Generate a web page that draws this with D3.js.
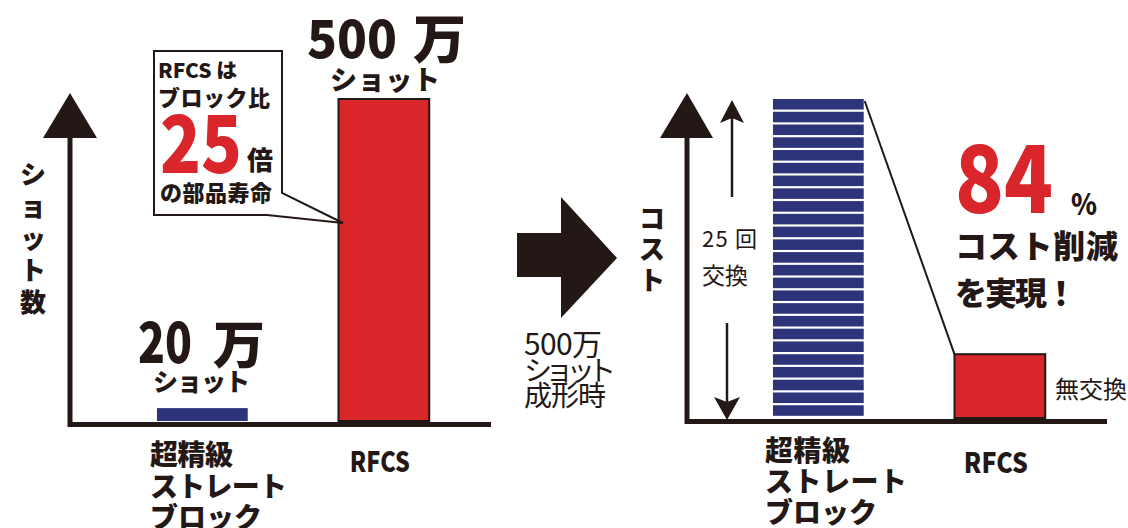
<!DOCTYPE html>
<html><head><meta charset="utf-8">
<script src="https://cdn.jsdelivr.net/npm/d3@7"></script>
<style>
html,body{margin:0;padding:0;background:#fff;}
svg{display:block;}
text{font-family:"Noto Sans CJK JP","Noto Sans",sans-serif;fill:#231815;}
</style></head>
<body>
<svg id="chart" width="1128" height="528"></svg>
<script>
// ---------- data ----------
const categories = ["超精級ストレートブロック", "RFCS"];
const categoryLines = [["超精級", "ストレート", "ブロック"], ["RFCS"]];
const shots = [20, 500];               // 万ショット
const shotLabels = ["20", "500"];
const replacements = 25;               // block exchanged 25 times
const costPerBlock = 1;                // cost units per block
const rfcsCost = 5;                    // RFCS cost units (no exchange)
const yLabelLeft = "ショット数";
const yLabelRight = "コスト";

const DARK = "#231815", RED = "#d8262b", NAVY = "#2e3479";
const svg = d3.select("#chart");

// ---------- left chart ----------
const xL = d3.scaleBand().domain(categories).range([111.6, 474.6]).paddingInner(0.5).paddingOuter(0.25);
const yL = d3.scaleLinear().domain([0, 500]).range([421, 99]);
const L = svg.append("g");
L.selectAll("rect.bar").data(categories).join("rect")
  .attr("x", d => xL(d)).attr("width", xL.bandwidth())
  .attr("y", (d, i) => yL(shots[i])).attr("height", (d, i) => yL(0) - yL(shots[i]))
  .attr("fill", (d, i) => i === 0 ? NAVY : RED)
  .attr("stroke", (d, i) => i === 0 ? "none" : DARK).attr("stroke-width", 2);
// axes
L.append("line").attr("x1", 70).attr("x2", 70).attr("y1", 134).attr("y2", 427).attr("stroke", DARK).attr("stroke-width", 5);
L.append("line").attr("x1", 68).attr("x2", 491).attr("y1", 424.5).attr("y2", 424.5).attr("stroke", DARK).attr("stroke-width", 5);
L.append("path").attr("d", "M70,93 L97,138 L43,138 Z").attr("fill", DARK);
// y label
L.selectAll("text.yl").data(Array.from(yLabelLeft)).join("text")
  .attr("x", 33).attr("y", (d, i) => 172 + i * 32).attr("text-anchor", "middle")
  .attr("dominant-baseline", "central").attr("font-size", 26).attr("font-weight", 900).text(d => d);
// x labels
L.append("g").selectAll("text").data(categoryLines[0]).join("text")
  .attr("x", 150).attr("y", (d, i) => 465 + i * 31.5).attr("font-size", 28).attr("font-weight", 900)
  .attr("textLength", (d, i) => [83, 137, 112][i]).text(d => d);
L.append("text").attr("x", xL(categories[1]) + xL.bandwidth() / 2 - 4).attr("y", 472).attr("text-anchor", "middle")
  .attr("font-size", 28).attr("font-weight", 900).attr("textLength", 60).attr("lengthAdjust", "spacingAndGlyphs").text(categoryLines[1][0]);
// value labels
L.append("text").attr("x", 307).attr("y", 58).attr("font-size", 52).attr("font-weight", 900)
  .attr("textLength", 90).attr("lengthAdjust", "spacingAndGlyphs").text(shotLabels[1]);
L.append("text").attr("x", 413).attr("y", 59).attr("font-size", 53).attr("font-weight", 900).text("万");
L.append("text").attr("x", 330).attr("y", 90).attr("font-size", 27).attr("font-weight", 900).attr("textLength", 110).text("ショット");
L.append("text").attr("x", 138).attr("y", 363).attr("font-size", 56).attr("font-weight", 900)
  .attr("textLength", 54).attr("lengthAdjust", "spacingAndGlyphs").text(shotLabels[0]);
L.append("text").attr("x", 213).attr("y", 364).attr("font-size", 52).attr("font-weight", 900).text("万");
L.append("text").attr("x", 153).attr("y", 391).attr("font-size", 25).attr("font-weight", 900).attr("textLength", 97).text("ショット");
// callout
L.append("path").attr("d", "M154,51 L282,51 L282,193 L343,223 L267,215 L154,215 Z")
  .attr("fill", "#fff").attr("stroke", DARK).attr("stroke-width", 2).attr("stroke-linejoin", "miter");
L.append("text").attr("x", 158).attr("y", 78).attr("font-size", 20).attr("font-weight", 900)
  .attr("textLength", 79).attr("lengthAdjust", "spacingAndGlyphs").text("RFCS は");
L.append("text").attr("x", 158).attr("y", 106).attr("font-size", 22).attr("font-weight", 900).attr("textLength", 112).text("ブロック比");
L.append("text").attr("x", 160).attr("y", 173).attr("font-size", 80).attr("font-weight", 900).style("fill", RED)
  .attr("textLength", 82).attr("lengthAdjust", "spacingAndGlyphs").text("25");
L.append("text").attr("x", 247).attr("y", 170).attr("font-size", 26).attr("font-weight", 900).text("倍");
L.append("text").attr("x", 160).attr("y", 201).attr("font-size", 22).attr("font-weight", 900).attr("textLength", 112).text("の部品寿命");

// ---------- middle arrow ----------
svg.append("path").attr("d", "M517,233 L561,233 L561,197 L617,258 L561,318 L561,277 L517,277 Z").attr("fill", DARK);
const mid = ["500万", "ショット", "成形時"];
svg.append("g").selectAll("text").data(mid).join("text")
  .attr("x", 524).attr("y", (d, i) => [355, 381, 406][i]).attr("font-size", (d, i) => i === 0 ? 30 : 28)
  .attr("font-weight", 400).attr("textLength", (d, i) => [78, 92, 82][i]).text(d => d);

// ---------- right chart ----------
const xR = d3.scaleBand().domain(categories).range([727.6, 1090.6]).paddingInner(0.5).paddingOuter(0.25);
const yR = d3.scaleLinear().domain([0, replacements * costPerBlock]).range([418, 99]);
const R = svg.append("g");
const segs = d3.range(replacements);
R.selectAll("rect.seg").data(segs).join("rect")
  .attr("x", xR(categories[0])).attr("width", xR.bandwidth())
  .attr("y", i => yR((i + 1) * costPerBlock))
  .attr("height", i => yR(i * costPerBlock) - yR((i + 1) * costPerBlock) - 2.2)
  .attr("fill", NAVY);
R.append("rect").attr("x", xR(categories[1])).attr("width", xR.bandwidth())
  .attr("y", yR(rfcsCost)).attr("height", yR(0) - yR(rfcsCost))
  .attr("fill", RED).attr("stroke", DARK).attr("stroke-width", 2);
// connector
R.append("line").attr("x1", xR(categories[0]) + xR.bandwidth() + 1).attr("y1", yR(replacements) + 2)
  .attr("x2", xR(categories[1])).attr("y2", yR(rfcsCost)).attr("stroke", DARK).attr("stroke-width", 2);
// axes
R.append("line").attr("x1", 687).attr("x2", 687).attr("y1", 134).attr("y2", 424).attr("stroke", DARK).attr("stroke-width", 5);
R.append("line").attr("x1", 685).attr("x2", 1107).attr("y1", 421.5).attr("y2", 421.5).attr("stroke", DARK).attr("stroke-width", 5);
R.append("path").attr("d", "M687,93 L713,138 L660,138 Z").attr("fill", DARK);
// double arrow
R.append("line").attr("x1", 732).attr("x2", 732).attr("y1", 197).attr("y2", 118).attr("stroke", DARK).attr("stroke-width", 2.5);
R.append("path").attr("d", "M732,100 L744,123 L732,118 L720,123 Z").attr("fill", DARK);
R.append("line").attr("x1", 727).attr("x2", 727).attr("y1", 323).attr("y2", 402).attr("stroke", DARK).attr("stroke-width", 2.5);
R.append("path").attr("d", "M727,420 L740,397 L727,402 L714,397 Z").attr("fill", DARK);
R.append("text").attr("x", 702).attr("y", 247).attr("font-size", 22).attr("font-weight", 400).attr("textLength", 55).text(replacements + " 回");
R.append("text").attr("x", 702).attr("y", 284).attr("font-size", 23).attr("font-weight", 400).text("交換");
// y label
R.selectAll("text.yl").data(Array.from(yLabelRight)).join("text")
  .attr("x", 652).attr("y", (d, i) => 216 + i * 31).attr("text-anchor", "middle")
  .attr("dominant-baseline", "central").attr("font-size", 26).attr("font-weight", 900).text(d => d);
// x labels
R.append("g").selectAll("text").data(categoryLines[0]).join("text")
  .attr("x", 765).attr("y", (d, i) => 461 + i * 31).attr("font-size", 28).attr("font-weight", 900)
  .attr("textLength", (d, i) => [85, 142, 112][i]).text(d => d);
R.append("text").attr("x", xR(categories[1]) + xR.bandwidth() / 2 - 4).attr("y", 473).attr("text-anchor", "middle")
  .attr("font-size", 28).attr("font-weight", 900).attr("textLength", 64).attr("lengthAdjust", "spacingAndGlyphs").text(categoryLines[1][0]);
// annotations
R.append("text").attr("x", 955).attr("y", 213).attr("font-size", 93).attr("font-weight", 900).style("fill", RED)
  .attr("textLength", 98).attr("lengthAdjust", "spacingAndGlyphs").text("84");
R.append("text").attr("x", 1071).attr("y", 215).attr("font-size", 29).attr("font-weight", 900)
  .attr("textLength", 26).attr("lengthAdjust", "spacingAndGlyphs").text("%");
R.append("text").attr("x", 955).attr("y", 258).attr("font-size", 32).attr("font-weight", 900).attr("textLength", 163).text("コスト削減");
R.append("text").attr("x", 955).attr("y", 305).attr("font-size", 32).attr("font-weight", 900).attr("textLength", 122).text("を実現！");
R.append("text").attr("x", 1055).attr("y", 398).attr("font-size", 24).attr("font-weight", 400).attr("textLength", 72).text("無交換");
</script>
</body></html>
